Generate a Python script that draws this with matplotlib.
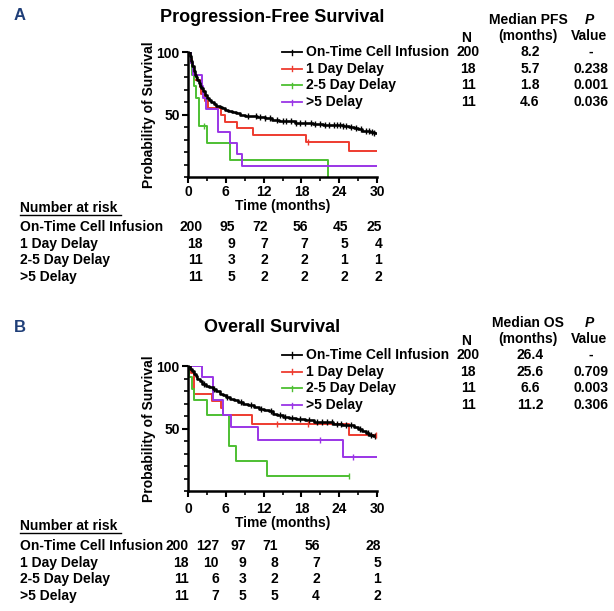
import numpy as np
import matplotlib
matplotlib.use('Agg')
import matplotlib.pyplot as plt
from matplotlib.lines import Line2D

plt.rcParams['font.family'] = ['Liberation Sans', 'DejaVu Sans']
plt.rcParams['font.weight'] = 'bold'

W, H = 614, 611

groups = ['On-Time Cell Infusion', '1 Day Delay', '2-5 Day Delay', '>5 Delay']
colors = ['#000000', '#EE3B2F', '#4DBF32', '#9A35E6']

# ---- Progression-free survival (step times in months, survival in %) ----
pfs_t = [
    [0, 0.3, 0.5, 0.7, 0.9, 1.1, 1.3, 1.5, 1.7, 1.9, 2.1, 2.4, 2.7, 3.0, 3.3, 3.7, 4.1, 4.5,
     5.0, 5.4, 5.9, 6.4, 7.0, 7.6, 8.2, 9.0, 10.0, 11.0, 12.2, 13.3, 14.5, 15.8, 17.0, 18.5,
     19.8, 21.5, 23.0, 24.6, 25.5, 26.3, 27.0, 27.6, 28.2, 28.9, 29.5, 30.0],
    [0, 0.4, 0.6, 0.8, 1.0, 1.85, 2.1, 2.65, 3.1, 5.3, 5.8, 7.7, 10.3, 18.8, 25.5, 30.0],
    [0, 0.5, 0.7, 0.9, 1.3, 1.75, 3.0, 6.6, 22.3, 22.3],
    [0, 0.5, 0.8, 2.2, 2.4, 2.8, 4.7, 6.6, 7.7, 8.5, 30.0],
]
pfs_s = [
    [100, 97, 93, 89, 85, 82, 80, 77.5, 75.5, 73, 71, 68.5, 66, 63.5, 62, 60, 58.5, 57,
     56, 55, 54, 53, 52, 51, 50, 49, 48.5, 48, 47, 45.5, 45, 44.5, 43.5, 43,
     42.5, 42, 41.5, 41, 40, 39.5, 38.5, 37, 36.5, 36, 35, 35],
    [100, 94.4, 88.9, 83.3, 77.8, 72.2, 66.7, 61.1, 55.6, 50, 44.4, 38.9, 33.3, 27.8, 20.8, 20.8],
    [100, 90.9, 81.8, 72.7, 63.6, 40.9, 27.3, 13.6, 0, 0],
    [100, 90.9, 81.8, 72.7, 63.6, 54.5, 36.4, 27.3, 18.2, 9.1, 9.1],
]
pfs_cens = [
    [9.5, 10.8, 11.5, 12.3, 13.0, 14.2, 15.0, 15.6, 16.4, 17.1, 17.8, 18.6, 19.5, 20.2,
     21.0, 21.7, 22.4, 23.1, 23.6, 24.1, 24.6, 25.0, 25.8, 26.6, 27.4, 28.2, 28.7, 29.2, 29.6],
    [19.0],
    [2.6],
    [],
]

# ---- Overall survival ----
os_t = [
    [0, 0.3, 0.6, 0.9, 1.2, 1.5, 1.9, 2.3, 2.8, 3.3, 3.9, 4.5, 5.0, 5.5, 6.0, 6.6, 7.3, 8.0,
     8.8, 9.6, 10.4, 11.2, 12.0, 12.8, 13.5, 14.2, 15.0, 16.0, 17.2, 18.5, 20.0, 21.5, 23.0,
     24.5, 25.5, 26.3, 27.0, 27.6, 28.2, 28.8, 29.4, 30.0],
    [0, 0.5, 1.0, 3.8, 5.3, 5.6, 10.1, 25.6, 29.9],
    [0, 0.2, 0.6, 1.0, 3.0, 6.5, 7.6, 12.5, 25.6],
    [0, 2.3, 4.0, 5.6, 6.8, 11.1, 24.6, 30.0],
]
os_s = [
    [100, 98, 96, 94, 92, 90, 88, 86, 84, 83, 82, 80, 78, 76.5, 75, 73.5, 72.5, 71,
     69.5, 68.5, 67.5, 66, 65, 64, 62, 60.5, 59.5, 58.5, 57.5, 56.5, 55.5, 55, 54,
     53, 52.5, 51, 49.5, 48, 46.5, 45, 44, 44],
    [100, 94.4, 77.8, 72.2, 66.7, 61.1, 53.5, 44.6, 44.6],
    [100, 90.9, 81.8, 72.7, 60.6, 36.4, 24.2, 12.1, 12.1],
    [100, 90.9, 72.7, 60.6, 50.9, 40.7, 27.1, 27.1],
]
os_cens = [
    [2.5, 4.2, 6.2, 8.4, 10.0, 11.6, 13.2, 14.6, 15.4, 16.5, 17.8, 19.2, 20.5, 21.2, 22.0,
     22.8, 23.6, 24.3, 25.0, 25.9, 27.3, 28.5, 29.1, 29.7],
    [14.2, 19.0, 29.9],
    [25.6],
    [20.9, 26.2],
]

risk_times = [0, 6, 12, 18, 24, 30]
pfs_risk = [[200, 95, 72, 56, 45, 25], [18, 9, 7, 7, 5, 4], [11, 3, 2, 2, 1, 1], [11, 5, 2, 2, 2, 2]]
os_risk = [[200, 127, 97, 71, 56, 28], [18, 10, 9, 8, 7, 5], [11, 6, 3, 2, 2, 1], [11, 7, 5, 5, 4, 2]]

pfs_n = [200, 18, 11, 11]
pfs_median = ['8.2', '5.7', '1.8', '4.6']
pfs_p = ['-', '0.238', '0.001', '0.036']
os_n = [200, 18, 11, 11]
os_median = ['26.4', '25.6', '6.6', '11.2']
os_p = ['-', '0.709', '0.003', '0.306']


def fx(x):
    return x / W


def fy(y):
    return 1 - y / H


fig = plt.figure(figsize=(6.14, 6.11), dpi=100)
FS = 10


def km_panel(top, title_y, leg_y, title, t_list, s_list, c_list, letter, med_name, n_vals,
             med_vals, p_vals, risk, risk_right, tick_pad, hdr_y, row_y0):
    left_px, right_px = 188, 377
    bot_px = top + 125
    ax = fig.add_axes([fx(left_px), fy(bot_px), fx(right_px - left_px), (bot_px - top) / H])
    for i in range(4):
        t = np.array(t_list[i])
        s = np.array(s_list[i])
        ax.step(t, s, where='post', color=colors[i], lw=1.9 if i == 0 else 1.4,
                zorder=3 if i == 0 else 2)
        if len(c_list[i]):
            ct = np.array(c_list[i])
            cs = s[np.searchsorted(t, ct, side='right') - 1]
            ax.plot(ct, cs, ls='none', marker='|', ms=4, mew=1.0, color=colors[i], zorder=4)
    ax.set_xlim(0, 30)
    ax.set_ylim(0, 100)
    ax.spines['top'].set_visible(False)
    ax.spines['right'].set_visible(False)
    ax.spines['left'].set_linewidth(1.8)
    ax.spines['bottom'].set_linewidth(1.8)
    ax.set_xticks(risk_times)
    ax.set_xticks(np.arange(0, 31, 3), minor=True)
    ax.set_yticks([50, 100])
    ax.set_yticks(np.arange(0, 101, 10), minor=True)
    ax.tick_params(which='major', length=4, width=1.5, labelsize=FS, pad=2)
    ax.tick_params(axis='x', which='major', pad=tick_pad)
    ax.tick_params(which='minor', length=3, width=1.2)
    for lab in ax.get_xticklabels() + ax.get_yticklabels():
        lab.set_fontweight('bold')
    ax.set_ylabel('Probability of Survival', fontsize=FS, fontweight='bold', labelpad=0)
    ax.set_xlabel('Time (months)', fontsize=FS, fontweight='bold', labelpad=0)

    fig.text(fx(272), fy(title_y), title, fontsize=13, fontweight='bold', ha='center', va='center')
    fig.text(fx(20), fy(title_y - 1), letter, fontsize=12, fontweight='bold', color='#1F3E78',
             ha='center', va='center')

    # legend and summary table
    for i in range(4):
        y = leg_y + 16.7 * i
        fig.add_artist(Line2D([fx(282), fx(302)], [fy(y), fy(y)], color=colors[i], lw=1.3))
        fig.add_artist(Line2D([fx(292), fx(292)], [fy(y - 2.5), fy(y + 2.5)], color=colors[i], lw=1.0))
        fig.text(fx(306), fy(y), groups[i], fontsize=FS, fontweight='bold', va='center')
        fig.text(fx(468), fy(y), str(n_vals[i]), fontsize=FS, fontweight='bold', ha='center', va='center')
        fig.text(fx(530), fy(y), med_vals[i], fontsize=FS, fontweight='bold', ha='center', va='center')
        fig.text(fx(591), fy(y), p_vals[i], fontsize=FS, fontweight='bold', ha='center', va='center')
    fig.text(fx(466), fy(leg_y - 14), 'N', fontsize=FS, fontweight='bold', ha='center', va='center')
    fig.text(fx(528), fy(leg_y - 32), med_name, fontsize=FS, fontweight='bold', ha='center', va='center')
    fig.text(fx(528), fy(leg_y - 16), '(months)', fontsize=FS, fontweight='bold', ha='center', va='center')
    fig.text(fx(589), fy(leg_y - 32), 'P', fontsize=FS, fontweight='bold', style='italic',
             ha='center', va='center')
    fig.text(fx(589), fy(leg_y - 16), 'Value', fontsize=FS, fontweight='bold', ha='center', va='center')

    # number at risk
    fig.text(fx(20), fy(hdr_y), 'Number at risk', fontsize=FS, fontweight='bold', va='center')
    fig.add_artist(Line2D([fx(20), fx(121)], [fy(hdr_y + 7), fy(hdr_y + 7)], color='black', lw=1.0))
    for i in range(4):
        y = row_y0 + 16.7 * i
        fig.text(fx(20), fy(y), groups[i], fontsize=FS, fontweight='bold', va='center')
        for j in range(len(risk_times)):
            fig.text(fx(risk_right[j]), fy(y), str(risk[i][j]), fontsize=FS, fontweight='bold',
                     ha='right', va='center')
    return ax


km_panel(52, 17, 52, 'Progression-Free Survival', pfs_t, pfs_s, pfs_cens, 'A', 'Median PFS',
         pfs_n, pfs_median, pfs_p, pfs_risk, [203, 235, 268, 308, 348, 382], 2, 208, 227)
km_panel(366, 328, 355, 'Overall Survival', os_t, os_s, os_cens, 'B', 'Median OS',
         os_n, os_median, os_p, os_risk, [189, 219, 246, 278, 320, 381], 4, 526, 546)

fig.savefig('out.png', dpi=100)
